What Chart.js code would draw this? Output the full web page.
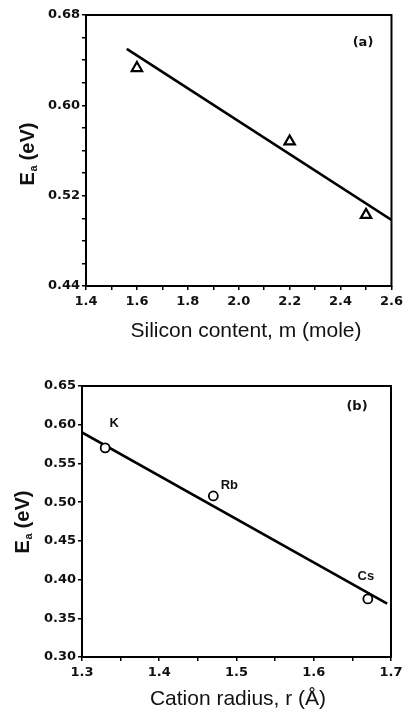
<!DOCTYPE html>
<html>
<head>
<meta charset="utf-8">
<script src="https://cdn.jsdelivr.net/npm/chart.js@4/dist/chart.umd.min.js"></script>
<style>
  body { margin: 0; background: #fff; }
  canvas { position: absolute; left: 0; }
  #chartA { top: 0; }
  #chartB { top: 360px; }
</style>
</head>
<body>
<canvas id="chartA" width="407" height="360"></canvas>
<canvas id="chartB" width="407" height="356"></canvas>
<script>
// (a) activation energy vs silicon content
var siliconContent = [1.6, 2.2, 2.5];
var eaSilicon = [0.633, 0.568, 0.503];
var fitSiliconX = [1.56, 2.6];
var fitSiliconY = [0.650, 0.4985];

// (b) activation energy vs cation radius
var cations = ['K', 'Rb', 'Cs'];
var cationRadius = [1.33, 1.47, 1.67];
var eaCation = [0.570, 0.508, 0.375];
var fitCationX = [1.30, 1.695];
var fitCationY = [0.590, 0.369];

var tickFont = { family: '"DejaVu Sans"', size: 13, weight: 'bold' };

function pts(xs, ys) {
    return xs.map(function (x, i) { return { x: x, y: ys[i] }; });
}

// box around the plot + axis titles + small labels
var decor = {
    id: 'decor',
    afterDraw: function (chart, args, opts) {
        var ctx = chart.ctx, a = chart.chartArea;
        ctx.save();
        ctx.strokeStyle = '#000';
        ctx.lineWidth = 2;
        ctx.strokeRect(a.left, a.top, a.right - a.left, a.bottom - a.top);

        ctx.fillStyle = '#111';
        ctx.textAlign = 'center';
        ctx.textBaseline = 'middle';
        ctx.font = '21px "Liberation Sans"';
        ctx.fillText(opts.xTitle, opts.xTitlePos[0], opts.xTitlePos[1]);

        ctx.font = 'bold 13px "DejaVu Sans"';
        ctx.fillText(opts.panel, opts.panelPos[0], opts.panelPos[1]);

        if (opts.pointLabels) {
            var meta = chart.getDatasetMeta(0);
            ctx.font = 'bold 13px "Liberation Sans"';
            opts.pointLabels.forEach(function (txt, i) {
                var p = meta.data[i];
                var off = opts.labelOffsets[i];
                ctx.fillText(txt, p.x + off[0], p.y + off[1]);
            });
        }

        // rotated y title with subscript a
        ctx.translate(opts.yTitlePos[0], opts.yTitlePos[1]);
        ctx.rotate(-Math.PI / 2);
        ctx.textAlign = 'left';
        ctx.textBaseline = 'alphabetic';
        ctx.font = 'bold 20px "Liberation Sans"';
        var wE = ctx.measureText('E').width;
        var wRest = ctx.measureText(' (eV)').width;
        ctx.font = 'bold 11px "Liberation Sans"';
        var wSub = ctx.measureText('a').width;
        var x0 = -(wE + wSub + wRest) / 2;
        ctx.font = 'bold 20px "Liberation Sans"';
        ctx.fillText('E', x0, 7);
        ctx.font = 'bold 11px "Liberation Sans"';
        ctx.fillText('a', x0 + wE + 0.5, 10);
        ctx.font = 'bold 20px "Liberation Sans"';
        ctx.fillText(' (eV)', x0 + wE + wSub, 7);
        ctx.restore();
    }
};

function makeChart(id, cfg) {
    return new Chart(document.getElementById(id), {
        type: 'scatter',
        data: {
            datasets: [{
                data: cfg.points,
                pointStyle: cfg.marker,
                pointRadius: cfg.radius,
                pointBorderWidth: cfg.markerWidth,
                borderColor: '#000',
                backgroundColor: '#fff',
                showLine: false
            }, {
                data: cfg.fit,
                showLine: true,
                borderColor: '#000',
                borderWidth: 2.6,
                pointRadius: 0
            }]
        },
        options: {
            responsive: false,
            animation: false,
            devicePixelRatio: 1,
            layout: { padding: cfg.padding },
            plugins: {
                legend: { display: false },
                tooltip: { enabled: false },
                decor: cfg.decor
            },
            scales: {
                x: {
                    type: 'linear',
                    min: cfg.xMin, max: cfg.xMax,
                    afterFit: function (s) { s.height = cfg.xHeight; },
                    border: { display: false },
                    grid: { drawOnChartArea: false, tickLength: 4, tickColor: '#000', lineWidth: 1.5 },
                    ticks: {
                        stepSize: cfg.xStep, autoSkip: false, maxRotation: 0,
                        color: '#111', font: tickFont, padding: 4,
                        callback: cfg.xLabel
                    }
                },
                y: {
                    type: 'linear',
                    min: cfg.yMin, max: cfg.yMax,
                    afterFit: function (s) { s.width = cfg.yWidth; },
                    border: { display: false },
                    grid: { drawOnChartArea: false, tickLength: 4, tickColor: '#000', lineWidth: 1.5 },
                    ticks: {
                        stepSize: cfg.yStep, autoSkip: false,
                        color: '#111', font: tickFont, padding: 2,
                        callback: cfg.yLabel
                    }
                }
            }
        },
        plugins: [decor]
    });
}

makeChart('chartA', {
    points: pts(siliconContent, eaSilicon),
    fit: pts(fitSiliconX, fitSiliconY),
    marker: 'triangle', radius: 6, markerWidth: 2.2,
    padding: { top: 15, right: 13, left: 0, bottom: 0 },
    xHeight: 74, yWidth: 86,
    xMin: 1.4, xMax: 2.6, xStep: 0.1,
    yMin: 0.44, yMax: 0.68, yStep: 0.02,
    xLabel: function (v) { return Math.round(v * 10) % 2 === 0 ? v.toFixed(1) : ''; },
    yLabel: function (v) { return Math.round(v * 100) % 8 === 4 ? v.toFixed(2) : ''; },
    decor: {
        xTitle: 'Silicon content, m (mole)', xTitlePos: [246, 331],
        yTitlePos: [27, 154],
        panel: '(a)', panelPos: [363, 43]
    }
});

makeChart('chartB', {
    points: pts(cationRadius, eaCation),
    fit: pts(fitCationX, fitCationY),
    marker: 'circle', radius: 4.5, markerWidth: 1.8,
    padding: { top: 26, right: 16, left: 0, bottom: 0 },
    xHeight: 59, yWidth: 82,
    xMin: 1.3, xMax: 1.7, xStep: 0.05,
    yMin: 0.30, yMax: 0.65, yStep: 0.05,
    xLabel: function (v) { return Math.round(v * 100) % 10 === 0 ? v.toFixed(1) : ''; },
    yLabel: function (v) { return v.toFixed(2); },
    decor: {
        xTitle: 'Cation radius, r (\u00c5)', xTitlePos: [238, 339],
        yTitlePos: [22, 162],
        panel: '(b)', panelPos: [357, 47],
        pointLabels: cations,
        labelOffsets: [[9, -25], [16, -11], [-2, -23]]
    }
});
</script>
</body>
</html>
